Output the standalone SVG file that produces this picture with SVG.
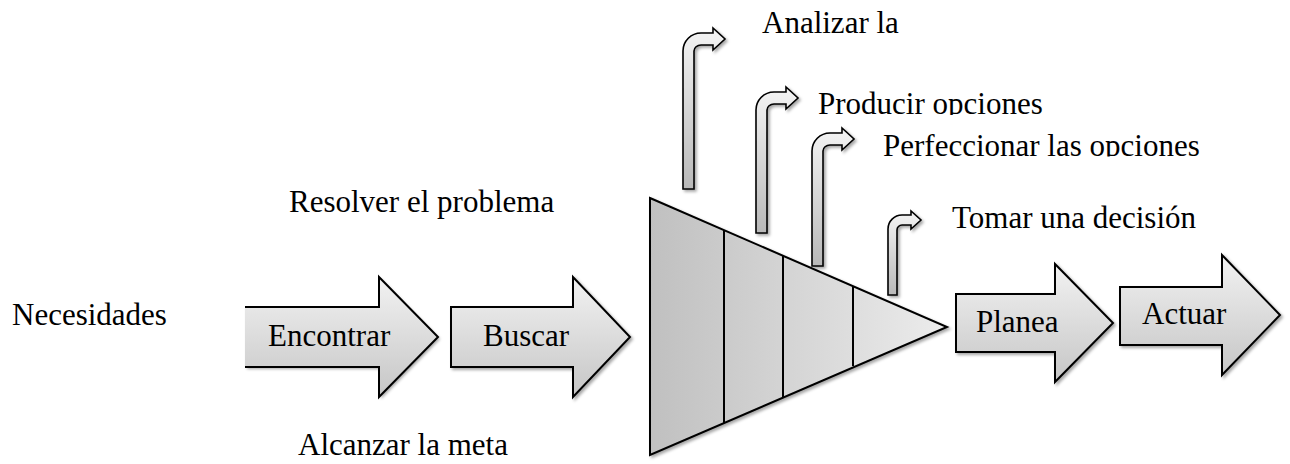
<svg xmlns="http://www.w3.org/2000/svg" width="1290" height="464" viewBox="0 0 1290 464">
  <style>
    .lbl { font-family: 'Liberation Serif', Tinos, 'Times New Roman', Times, 'DejaVu Serif', serif; font-size: 31px; fill: #000; }
    .block { fill: url(#blockFill); stroke: #000; stroke-width: 2; stroke-linejoin: miter; filter: url(#shadow); }
    .edge { fill: none; stroke: #000; stroke-width: 2; }
    .bent { fill: url(#bentFill); stroke: #000; stroke-width: 1.6; filter: url(#shadow); }
    .divider { stroke: #000; stroke-width: 2; }
  </style>
  <defs>
    <linearGradient id="blockFill" x1="0" y1="0" x2="0" y2="1">
      <stop offset="0" stop-color="#f2f2f2"/>
      <stop offset="1" stop-color="#c6c6c6"/>
    </linearGradient>
    <linearGradient id="bentFill" x1="0" y1="0" x2="0" y2="1">
      <stop offset="0" stop-color="#f4f4f4"/>
      <stop offset="1" stop-color="#b8b8b8"/>
    </linearGradient>
    <linearGradient id="funnelFill" x1="0" y1="0" x2="1" y2="0">
      <stop offset="0" stop-color="#c0c0c0"/>
      <stop offset="1" stop-color="#ececec"/>
    </linearGradient>
    <filter id="shadow" x="-20%" y="-20%" width="140%" height="140%">
      <feDropShadow dx="2" dy="2" stdDeviation="1.5" flood-color="#000" flood-opacity="0.35"/>
    </filter>
    <clipPath id="clipProducir"><rect x="800" y="80" width="300" height="35"/></clipPath>
    <clipPath id="clipPerfeccionar"><rect x="870" y="120" width="360" height="36.5"/></clipPath>
    <clipPath id="clipTomar"><rect x="940" y="190" width="300" height="38.5"/></clipPath>
  </defs>

  <rect width="1290" height="464" fill="#fff"/>

  <g font-family="'Liberation Serif', Tinos, 'Times New Roman', Times, 'DejaVu Serif', serif">
  <!-- plain labels -->
  <g id="necesidades"><text class="lbl" x="12" y="325">Necesidades</text></g>
  <g id="resolver"><text class="lbl" x="289" y="212">Resolver el problema</text></g>
  <g id="alcanzar"><text class="lbl" x="298" y="455">Alcanzar la meta</text></g>

  <!-- block arrows -->
  <g id="encontrar">
    <polygon points="245,307 379,307 379,277 438,337 379,397 379,367 245,367" fill="url(#blockFill)" filter="url(#shadow)"/>
    <polyline class="edge" points="245,307 379,307 379,277 438,337 379,397 379,367 245,367"/>
    <text class="lbl" x="268" y="346">Encontrar</text>
  </g>
  <g id="buscar">
    <polygon class="block" points="451,307 573,307 573,277 630,337 573,397 573,367 451,367"/>
    <text class="lbl" x="483" y="346">Buscar</text>
  </g>

  <!-- funnel -->
  <g id="embudo">
    <polygon points="650,198 947,327 650,455" fill="url(#funnelFill)" stroke="#000" stroke-width="2" filter="url(#shadow)"/>
    <line class="divider" x1="724" y1="230" x2="724" y2="423"/>
    <line class="divider" x1="783" y1="256" x2="783" y2="397"/>
    <line class="divider" x1="853" y1="286" x2="853" y2="366"/>
  </g>

  <g id="planea">
    <polygon class="block" points="956,294 1055,294 1055,264 1113,323 1055,382 1055,352 956,352"/>
    <text class="lbl" x="976" y="332">Planea</text>
  </g>
  <g id="actuar">
    <polygon class="block" points="1120,287 1222,287 1222,255 1280,315 1222,375 1222,345 1120,345"/>
    <text class="lbl" x="1142" y="324">Actuar</text>
  </g>

  <!-- bent arrows rising from the funnel and their labels -->
  <g id="analizar">
    <path class="bent" d="M683,189 V51 a18,18 0 0 1 18,-18 h12 v-5 l12,11 l-12,11 v-5 h-12 a7,6 0 0 0 -7,6 V189 Z"/>
    <text class="lbl" x="762" y="33">Analizar la</text>
  </g>
  <g id="producir">
    <path class="bent" d="M756,233 V110 a18,18 0 0 1 18,-18 h12 v-5 l12,11 l-12,11 v-5 h-12 a7,6 0 0 0 -7,6 V233 Z"/>
    <text class="lbl" x="818" y="114" clip-path="url(#clipProducir)">Producir opciones</text>
  </g>
  <g id="perfeccionar">
    <path class="bent" d="M812,266 V151 a18,18 0 0 1 18,-18 h12 v-5 l12,11 l-12,11 v-5 h-12 a7,6 0 0 0 -7,6 V266 Z"/>
    <text class="lbl" x="883" y="155.5" clip-path="url(#clipPerfeccionar)">Perfeccionar las opciones</text>
  </g>
  <g id="tomar">
    <path class="bent" d="M888,295 V229 a14,14 0 0 1 14,-14 h9 v-4 l10,9 l-10,9 v-4 h-9 a5,5 0 0 0 -5,5 V295 Z"/>
    <text class="lbl" x="952" y="227.5" clip-path="url(#clipTomar)">Tomar una decisión</text>
  </g>
  </g>
</svg>
